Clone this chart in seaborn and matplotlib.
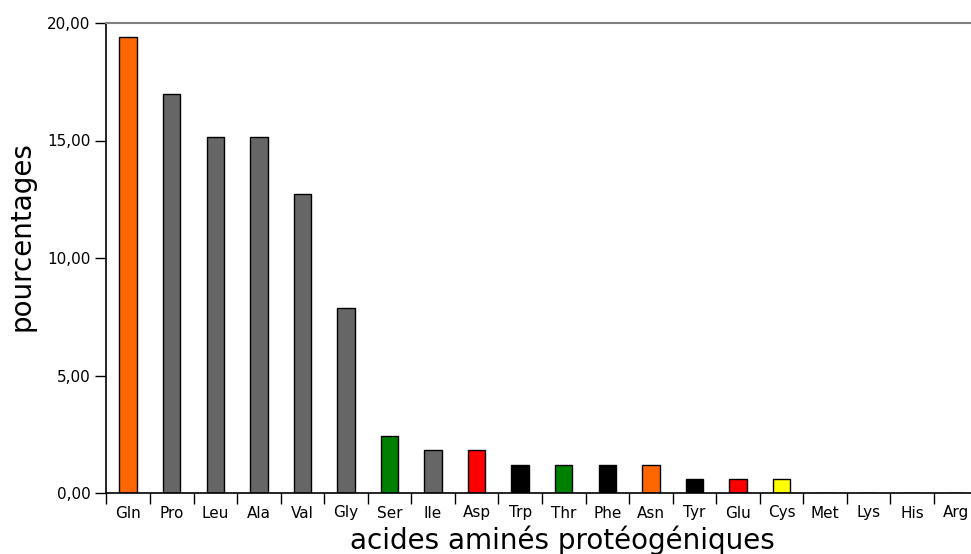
import seaborn as sns
import matplotlib.pyplot as plt
from matplotlib.ticker import FuncFormatter, FixedLocator
import numpy as np

amino_acids = ["Gln", "Pro", "Leu", "Ala", "Val", "Gly", "Ser", "Ile", "Asp", "Trp",
               "Thr", "Phe", "Asn", "Tyr", "Glu", "Cys", "Met", "Lys", "His", "Arg"]
percentages = [19.39, 16.97, 15.15, 15.15, 12.73, 7.88, 2.42, 1.82, 1.82, 1.21,
               1.21, 1.21, 1.21, 0.61, 0.61, 0.61, 0.0, 0.0, 0.0, 0.0]
bar_colors = ["#ff6600", "#666666", "#666666", "#666666", "#666666", "#666666",
              "#008000", "#666666", "#ff0000", "#000000", "#008000", "#000000",
              "#ff6600", "#000000", "#ff0000", "#ffff00", "#666666", "#666666",
              "#666666", "#666666"]

sns.set_style("white")
plt.rcParams["font.family"] = ["DejaVu Sans"]
plt.rcParams["text.color"] = "black"
plt.rcParams["axes.labelcolor"] = "black"
plt.rcParams["xtick.color"] = "black"
plt.rcParams["ytick.color"] = "black"

fig = plt.figure(figsize=(9.71, 5.54), dpi=100)
n = len(amino_acids)
cat_w = (934 - 150) / 18
left = 106.4
ax = fig.add_axes([left / 971, 61 / 554, n * cat_w / 971, 470 / 554])

sns.barplot(x=amino_acids, y=percentages, hue=amino_acids, palette=bar_colors,
            legend=False, width=0.4, edgecolor="black", linewidth=1,
            saturation=1, ax=ax)

ax.set_xlim(-0.5, n - 0.5)
ax.set_ylim(0, 20)
ax.set_yticks([0, 5, 10, 15, 20])
ax.yaxis.set_major_formatter(FuncFormatter(lambda v, p: f"{v:.2f}".replace(".", ",")))
ax.tick_params(axis="y", direction="out", length=8, width=1, color="black",
               labelsize=11, labelcolor="black", left=True)
ax.tick_params(axis="x", which="major", length=0, labelsize=11,
               labelcolor="black", pad=9)
ax.xaxis.set_minor_locator(FixedLocator(np.arange(n + 1) - 0.5))
ax.tick_params(axis="x", which="minor", direction="out", length=8, width=1,
               color="black", bottom=True)

for side in ["left", "bottom"]:
    ax.spines[side].set_color("black")
    ax.spines[side].set_linewidth(1.2)
ax.spines["top"].set_color("#808080")
ax.spines["top"].set_linewidth(1.5)
ax.spines["right"].set_visible(False)

ax.set_xlabel("acides aminés protéogéniques", fontsize=20, color="black")
ax.set_ylabel("pourcentages", fontsize=20, color="black")
ax.xaxis.set_label_coords((562 - left) / (n * cat_w), -(540 - 493) / 470)
ax.yaxis.set_label_coords(-(left - 22) / (n * cat_w), (493 - 236) / 470)
ax.xaxis.label.set_va("center")
ax.yaxis.label.set_va("center")

fig.savefig("out.png", dpi=100)
